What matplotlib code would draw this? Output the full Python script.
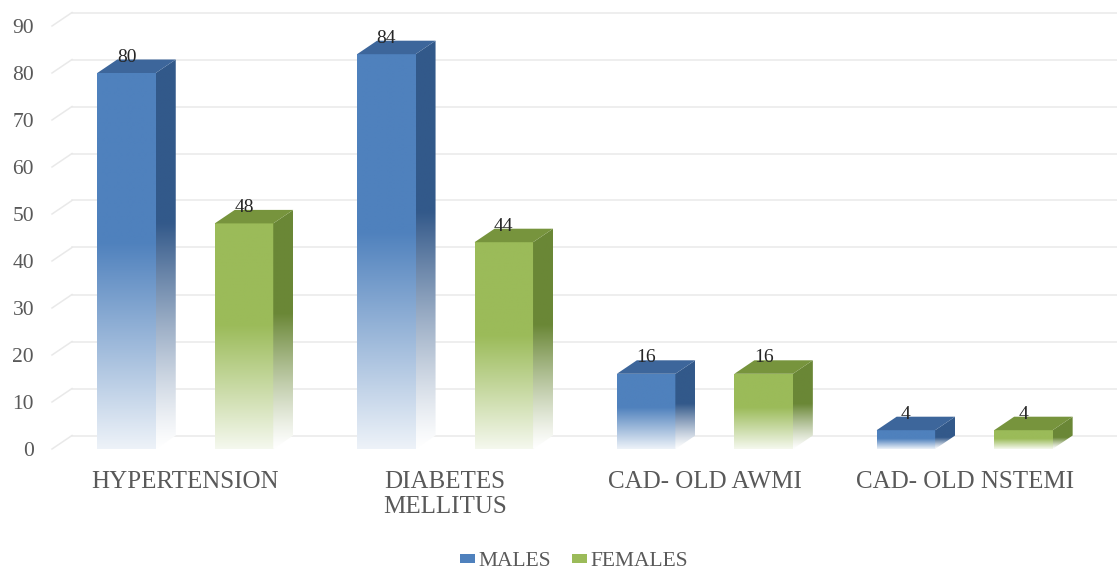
import numpy as np
import matplotlib
matplotlib.use("Agg")
import matplotlib.pyplot as plt
from matplotlib.patches import Polygon, Patch
from matplotlib.colors import to_rgb

# ---- data ----
categories = ["HYPERTENSION", "DIABETES\nMELLITUS", "CAD- OLD AWMI", "CAD- OLD NSTEMI"]
males = [80, 84, 16, 4]
females = [48, 44, 16, 4]
series_names = ["MALES", "FEMALES"]
y_ticks = [0, 10, 20, 30, 40, 50, 60, 70, 80, 90]

# ---- styling ----
FRONT = ["#4F81BD", "#9BBB59"]
SIDE = ["#33598A", "#6A8736"]
TOP = ["#3D669B", "#77943D"]
TEXT_GREY = "#595959"
GRID = "#e9e9e9"

plt.rcParams["font.family"] = ["Liberation Serif", "DejaVu Serif"]

# ---- layout (pixels) ----
W_PX, H_PX, DPI = 1117, 573, 100
FRONT_LEFT_PX = 52
CAT0_PX, CAT_STEP_PX = 185.25, 259.8
BASE_PX, UNIT_PX = 124.0, 4.7
DEPTH_PX = (20.0, 13.5)
BAR_W_PX = 58.5
SERIES_OFF_PX = 58.75
TICK_RIGHT_PX = 34

fig = plt.figure(figsize=(W_PX / DPI, H_PX / DPI), dpi=DPI)
ax = fig.add_axes([0, 0, 1, 1])
ax.set_axis_off()

xlim = (-CAT0_PX / CAT_STEP_PX, (W_PX - CAT0_PX) / CAT_STEP_PX)
ylim = (-BASE_PX / UNIT_PX, (H_PX - BASE_PX) / UNIT_PX)

dx = DEPTH_PX[0] / CAT_STEP_PX
dy = DEPTH_PX[1] / UNIT_PX
bar_w = BAR_W_PX / CAT_STEP_PX
off = SERIES_OFF_PX / CAT_STEP_PX
x_front_left = (FRONT_LEFT_PX - CAT0_PX) / CAT_STEP_PX
x_tick = (TICK_RIGHT_PX - CAT0_PX) / CAT_STEP_PX

# back wall gridlines and side wall diagonals
for v in y_ticks:
    ax.plot([x_front_left + dx, xlim[1]], [v + dy, v + dy], color=GRID, lw=1.1, zorder=0)
    ax.plot([x_front_left, x_front_left + dx], [v, v + dy], color=GRID, lw=1.1, zorder=0)
    ax.text(x_tick, v, str(v), ha="right", va="center_baseline", fontsize=15.5,
            color=TEXT_GREY)


def shade(color, t):
    c = np.array(to_rgb(color))
    return 1.0 - (1.0 - c)[None, None, :] * t[:, None, None]


N = 300
x = np.arange(len(categories))
for s, (vals, sign) in enumerate(zip([males, females], [-1, 1])):
    xc = x + sign * off
    bars = ax.bar(xc, vals, width=bar_w, color="none", edgecolor="none", zorder=2)
    for rect, v in zip(bars, vals):
        xl = rect.get_x()
        xr = xl + rect.get_width()
        # front face with bottom fade
        f = np.linspace(0, 1, N)
        t = np.clip(0.10 + 0.90 * f / 0.55, 0, 1)
        im = ax.imshow(shade(FRONT[s], t), origin="lower", extent=(xl, xr, 0, v),
                       aspect="auto", interpolation="bilinear", zorder=2)
        im.set_clip_path(rect)
        # side face
        side = Polygon([(xr, 0), (xr + dx, dy), (xr + dx, v + dy), (xr, v)],
                       closed=True, fc="none", ec="none", zorder=2)
        ax.add_patch(side)
        ys = np.linspace(0, v + dy, N)
        ts = np.clip(ys / v / 0.6, 0, 1) ** 1.2
        im2 = ax.imshow(shade(SIDE[s], ts), origin="lower", extent=(xr, xr + dx, 0, v + dy),
                        aspect="auto", interpolation="bilinear", zorder=2)
        im2.set_clip_path(side)
        # top face
        ax.add_patch(Polygon([(xl, v), (xr, v), (xr + dx, v + dy), (xl + dx, v + dy)],
                             closed=True, fc=TOP[s], ec="none", zorder=3))
        # value label
        ax.annotate(str(v), (rect.get_x() + rect.get_width() / 2, v), xytext=(0, 11.5),
                    textcoords="offset points", ha="center", va="center",
                    fontsize=14, color="#262626", zorder=4)

# category labels
for xi, name in zip(x, categories):
    ax.text(xi, -4.7, name, ha="center", va="top", fontsize=18, color=TEXT_GREY,
            linespacing=1.15)

ax.set_xlim(*xlim)
ax.set_ylim(*ylim)

handles = [Patch(facecolor=FRONT[0], edgecolor="none"), Patch(facecolor=FRONT[1], edgecolor="none")]
fig.legend(handles, series_names, loc="center", bbox_to_anchor=(574 / W_PX, 1 - 562 / H_PX),
           ncol=2, frameon=False, fontsize=15.5, handlelength=0.7, handleheight=0.3,
           handletextpad=0.15, columnspacing=1.0, borderpad=0, labelcolor=TEXT_GREY)

fig.savefig("out.png", dpi=DPI)
